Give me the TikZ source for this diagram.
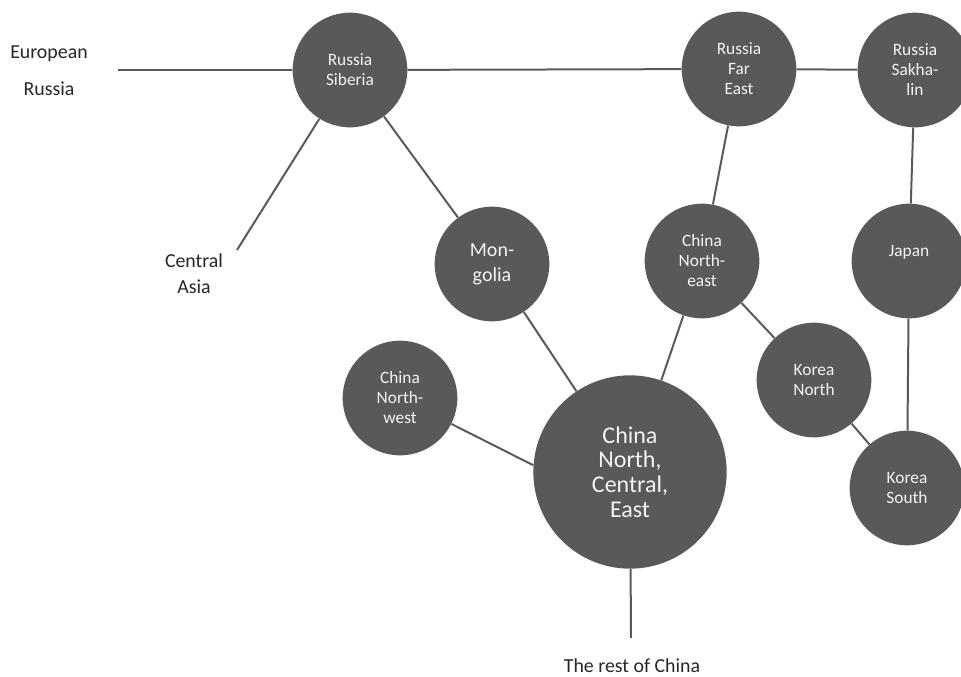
\documentclass[tikz,border=0pt]{standalone}
\usepackage{fontspec}
\setmainfont{Carlito}
\definecolor{regfill}{HTML}{595959}
\definecolor{regtext}{HTML}{F4F4F4}
\definecolor{linkcol}{HTML}{5A5A5A}
\definecolor{labcol}{HTML}{262626}
\begin{document}
\begin{tikzpicture}[x=0.75pt,y=-0.75pt,
  region/.style={circle, fill=regfill, text=regtext, minimum size=86pt, inner sep=0pt, align=center, font=\fontsize{13}{15}\selectfont},
  bigregion/.style={region, minimum size=145pt, font=\fontsize{18}{18.6}\selectfont},
  midtext/.style={font=\fontsize{15}{18.8}\selectfont},
  outlabel/.style={text=labcol, align=center, inner sep=0pt, font=\fontsize{14.9}{19.5}\selectfont},
  link/.style={draw=linkcol, line width=1.5pt}]
\clip (0,0) rectangle (961,676);
\useasboundingbox (0,0) rectangle (961,676);
% regions
\node[region] (sib) at (350,70) {Russia\\Siberia};
\node[region] (fe) at (739,69) {Russia\\Far\\East};
\node[region] (sak) at (915,70) {Russia\\Sakha-\\lin};
\node[region, midtext] (mon) at (492,264) {Mon-\\golia};
\node[region] (ne) at (702,261) {China\\North-\\east};
\node[region] (jp) at (909,261) {Japan\\\mbox{}};
\node[region] (nw) at (400,398) {China\\North-\\west};
\node[region] (kn) at (814,380) {Korea\\North};
\node[bigregion] (main) at (630,472) {China\\North,\\Central,\\East};
\node[region] (ks) at (907,488) {Korea\\South};
% outside labels
\node[outlabel] (eu1) at (49,54) {European};
\node[outlabel] (eu2) at (49,89) {Russia};
\node[outlabel] (ca) at (194,274) {Central\\Asia};
\node[outlabel] (rest) at (632,666) {The rest of China};
% free ends
\coordinate (euend) at (118,70);
\coordinate (caend) at (237,250);
\coordinate (restend) at (631,638);
% connectors
\draw[link] (euend) -- (sib);
\draw[link] (sib) -- (fe);
\draw[link] (fe) -- (sak);
\draw[link] (sib) -- (caend);
\draw[link] (sib) -- (mon);
\draw[link] (fe) -- (ne);
\draw[link] (sak) -- (jp);
\draw[link] (mon) -- (main);
\draw[link] (ne) -- (main);
\draw[link] (ne) -- (kn);
\draw[link] (nw) -- (main.176);
\draw[link] (jp) -- (ks);
\draw[link] (kn) -- (ks);
\draw[link] (main) -- (restend);
\end{tikzpicture}
\end{document}
